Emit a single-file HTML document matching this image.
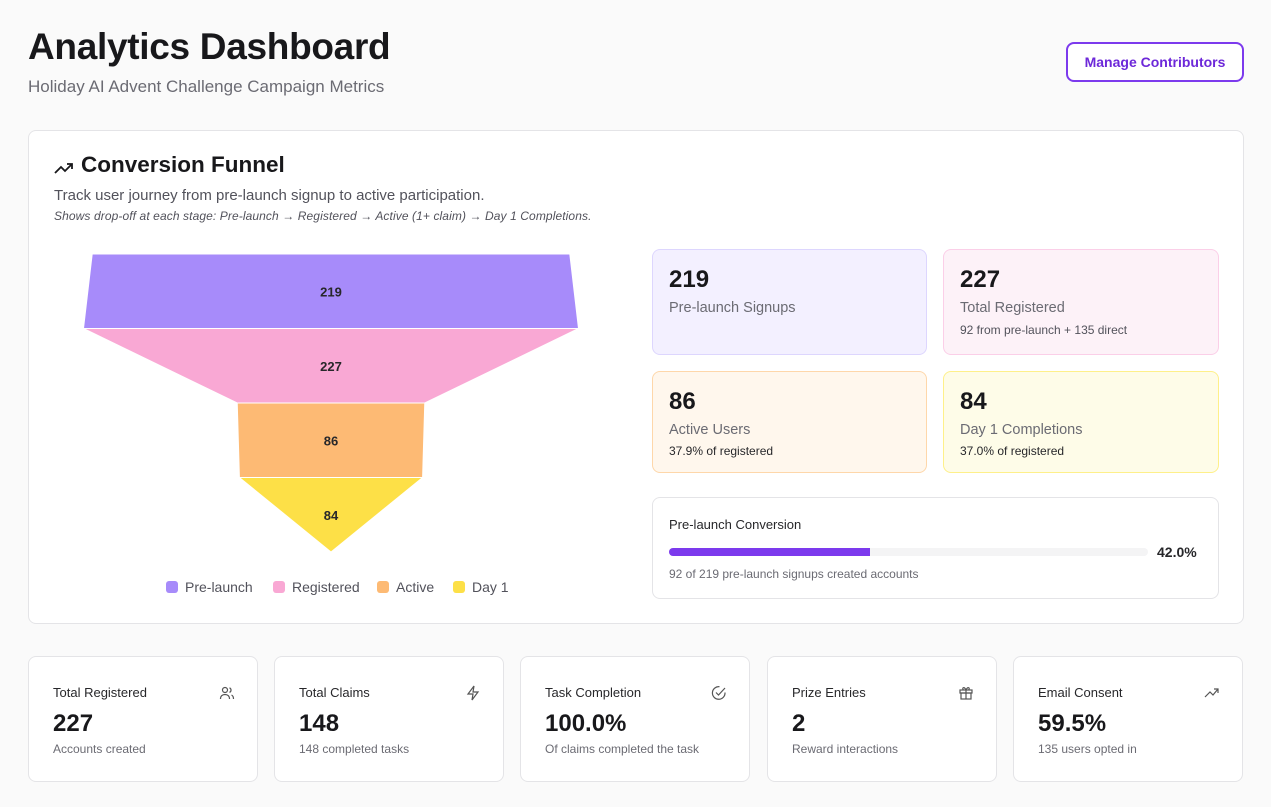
<!DOCTYPE html>
<html><head><meta charset="utf-8"><style>
*{box-sizing:border-box;margin:0;padding:0}
body{width:1271px;height:807px;background:#fafafa;font-family:"Liberation Sans",sans-serif;color:#18181b;position:relative;overflow:hidden}
.abs{position:absolute}
h1{position:absolute;left:28px;top:26px;font-size:37px;font-weight:700;letter-spacing:-0.3px}
.sub{left:28px;top:77px;font-size:17px;color:#6b6b73}
.btn{left:1066px;top:42px;width:178px;height:40px;border:2px solid #7c3aed;border-radius:8px;background:#fff;color:#6d28d9;font-size:14px;font-weight:600;display:flex;align-items:center;justify-content:center}
.card{background:#fff;border:1px solid #e4e4e7;border-radius:8px}
.stat{position:absolute;border-radius:8px;border:1px solid}
.stat .n{position:absolute;left:16px;top:16px;font-size:24px;font-weight:700}
.stat .l{position:absolute;left:16px;top:50px;font-size:14.5px;color:#6b6b73}
.stat .s{position:absolute;left:16px;top:72px;font-size:12px;color:#27272a}
.kpi{position:absolute;top:656px;width:230px;height:126px}
.kpi .t{position:absolute;left:24px;top:28px;font-size:13px;color:#27272a}
.kpi .v{position:absolute;left:24px;top:53px;font-size:24px;font-weight:700}
.kpi .d{position:absolute;left:24px;top:85px;font-size:12px;color:#6b6b73}
.kpi svg{position:absolute;right:22px;top:28px}
.leg{position:absolute;top:579px;font-size:14px;color:#52525b;display:flex;align-items:center}
.leg i{display:inline-block;width:12px;height:12px;border-radius:3px;margin-right:7px}
</style></head><body>
<h1>Analytics Dashboard</h1>
<div class="abs sub">Holiday AI Advent Challenge Campaign Metrics</div>
<div class="abs btn">Manage Contributors</div>

<div class="abs card" style="left:28px;top:130px;width:1216px;height:494px">
  <svg class="abs" style="left:25px;top:29px" width="20" height="16" viewBox="0 0 20 16"><polyline points="1,13 7,7 11,11 18,4" fill="none" stroke="#18181b" stroke-width="1.8"/><polyline points="13,4 18,4 18,9" fill="none" stroke="#18181b" stroke-width="1.8"/></svg>
  <div class="abs" style="left:52px;top:21px;font-size:22.5px;font-weight:700">Conversion Funnel</div>
  <div class="abs" style="left:25px;top:56px;font-size:15px;color:#52525b">Track user journey from pre-launch signup to active participation.</div>
  <div class="abs" style="left:25px;top:78px;font-size:12px;font-style:italic;color:#52525b;letter-spacing:0.1px">Shows drop-off at each stage: Pre-launch → Registered → Active (1+ claim) → Day 1 Completions.</div>
</div>

<svg id="funnel" class="abs" style="left:0;top:0" width="640" height="570"></svg>

<div class="leg" style="left:166px"><i style="background:#a78bfa"></i>Pre-launch</div>
<div class="leg" style="left:273px"><i style="background:#f9a8d4"></i>Registered</div>
<div class="leg" style="left:377px"><i style="background:#fdba74"></i>Active</div>
<div class="leg" style="left:453px"><i style="background:#fde047"></i>Day 1</div>

<div class="stat" style="left:652px;top:249px;width:275px;height:106px;background:#f3f0ff;border-color:#ddd6fe"><div class="n">219</div><div class="l">Pre-launch Signups</div></div>
<div class="stat" style="left:943px;top:249px;width:276px;height:106px;background:#fdf2f8;border-color:#fbcfe8"><div class="n">227</div><div class="l">Total Registered</div><div class="s" style="top:73px;color:#52525b">92 from pre-launch + 135 direct</div></div>
<div class="stat" style="left:652px;top:371px;width:275px;height:102px;background:#fff7ed;border-color:#fed7aa"><div class="n">86</div><div class="l">Active Users</div><div class="s">37.9% of registered</div></div>
<div class="stat" style="left:943px;top:371px;width:276px;height:102px;background:#fefce8;border-color:#fef08a"><div class="n">84</div><div class="l">Day 1 Completions</div><div class="s">37.0% of registered</div></div>

<div class="abs card" style="left:652px;top:497px;width:567px;height:102px">
  <div class="abs" style="left:16px;top:19px;font-size:13px;color:#27272a">Pre-launch Conversion</div>
  <div class="abs" style="left:16px;top:50px;width:479px;height:8px;background:#f4f4f5;border-radius:4px"><div style="width:42%;height:8px;background:#7c3aed;border-radius:4px 0 0 4px"></div></div>
  <div class="abs" style="left:504px;top:46px;font-size:14px;font-weight:600;color:#27272a">42.0%</div>
  <div class="abs" style="left:16px;top:69px;font-size:12px;color:#6b6b73">92 of 219 pre-launch signups created accounts</div>
</div>

<div class="kpi card" style="left:28px"><div class="t">Total Registered</div><svg width="16" height="16" viewBox="0 0 16 16"><circle cx="6" cy="5" r="2.5" fill="none" stroke="#555" stroke-width="1.2"/><path d="M1.5 14c0-3 2-4.5 4.5-4.5s4.5 1.5 4.5 4.5M10.5 2.8a2.5 2.5 0 010 4.6M12.5 10c1.3.6 2 1.8 2 4" fill="none" stroke="#555" stroke-width="1.2"/></svg><div class="v">227</div><div class="d">Accounts created</div></div>
<div class="kpi card" style="left:274px"><div class="t">Total Claims</div><svg width="16" height="16" viewBox="0 0 16 16"><path d="M9 1L3 9h5l-1 6 6-8H8z" fill="none" stroke="#555" stroke-width="1.2"/></svg><div class="v">148</div><div class="d">148 completed tasks</div></div>
<div class="kpi card" style="left:520px"><div class="t">Task Completion</div><svg width="16" height="16" viewBox="0 0 16 16"><path d="M14 7.5A6.3 6.3 0 118.5 1.7" fill="none" stroke="#555" stroke-width="1.2"/><path d="M5 7.5l2.5 2.5L14 3" fill="none" stroke="#555" stroke-width="1.2"/></svg><div class="v">100.0%</div><div class="d">Of claims completed the task</div></div>
<div class="kpi card" style="left:767px"><div class="t">Prize Entries</div><svg width="16" height="16" viewBox="0 0 16 16"><rect x="2" y="5" width="12" height="3" fill="none" stroke="#555" stroke-width="1.2"/><rect x="3" y="8" width="10" height="6" fill="none" stroke="#555" stroke-width="1.2"/><path d="M8 5v9M8 5C6 1 3.5 3 5.5 5M8 5c2-4 4.5-2 2.5 0" fill="none" stroke="#555" stroke-width="1.2"/></svg><div class="v">2</div><div class="d">Reward interactions</div></div>
<div class="kpi card" style="left:1013px"><div class="t">Email Consent</div><svg width="16" height="16" viewBox="0 0 16 16"><polyline points="1,12 6,7 9,10 14,4" fill="none" stroke="#555" stroke-width="1.2"/><polyline points="10,4 14,4 14,8" fill="none" stroke="#555" stroke-width="1.2"/></svg><div class="v">59.5%</div><div class="d">135 users opted in</div></div>

<script>
const stages = ["Pre-launch","Registered","Active","Day 1"];
const values = [219, 227, 86, 84];
const colors = ["#a78bfa","#f9a8d4","#fdba74","#fde047"];
const svg = document.getElementById('funnel');
const NS = "http://www.w3.org/2000/svg";
const cx = 331, top0 = 254, segH = 74.5;
const maxV = Math.max(...values);
const halfW = v => v / maxV * 247.5;
const yAt = i => top0 + i * segH;
values.forEach((v, i) => {
  const next = i + 1 < values.length ? values[i + 1] : 0;
  const a = halfW(v), b = halfW(next);
  const y0 = yAt(i), y1 = yAt(i + 1);
  const p = document.createElementNS(NS, 'polygon');
  p.setAttribute('points', `${cx-a},${y0} ${cx+a},${y0} ${cx+b},${y1} ${cx-b},${y1}`);
  p.setAttribute('fill', colors[i]);
  p.setAttribute('stroke', '#fff');
  p.setAttribute('stroke-width', '1');
  
  
  svg.appendChild(p);
  const t = document.createElementNS(NS, 'text');
  t.setAttribute('x', cx);
  t.setAttribute('y', (y0 + y1) / 2 + 5);
  t.setAttribute('text-anchor', 'middle');
  t.setAttribute('font-size', '13');
  t.setAttribute('font-weight', '700');
  t.setAttribute('fill', '#27272a');
  t.setAttribute('font-family', 'Liberation Sans, sans-serif');
  t.textContent = v;
  
  
  svg.appendChild(t);
});
</script>
</body></html>
